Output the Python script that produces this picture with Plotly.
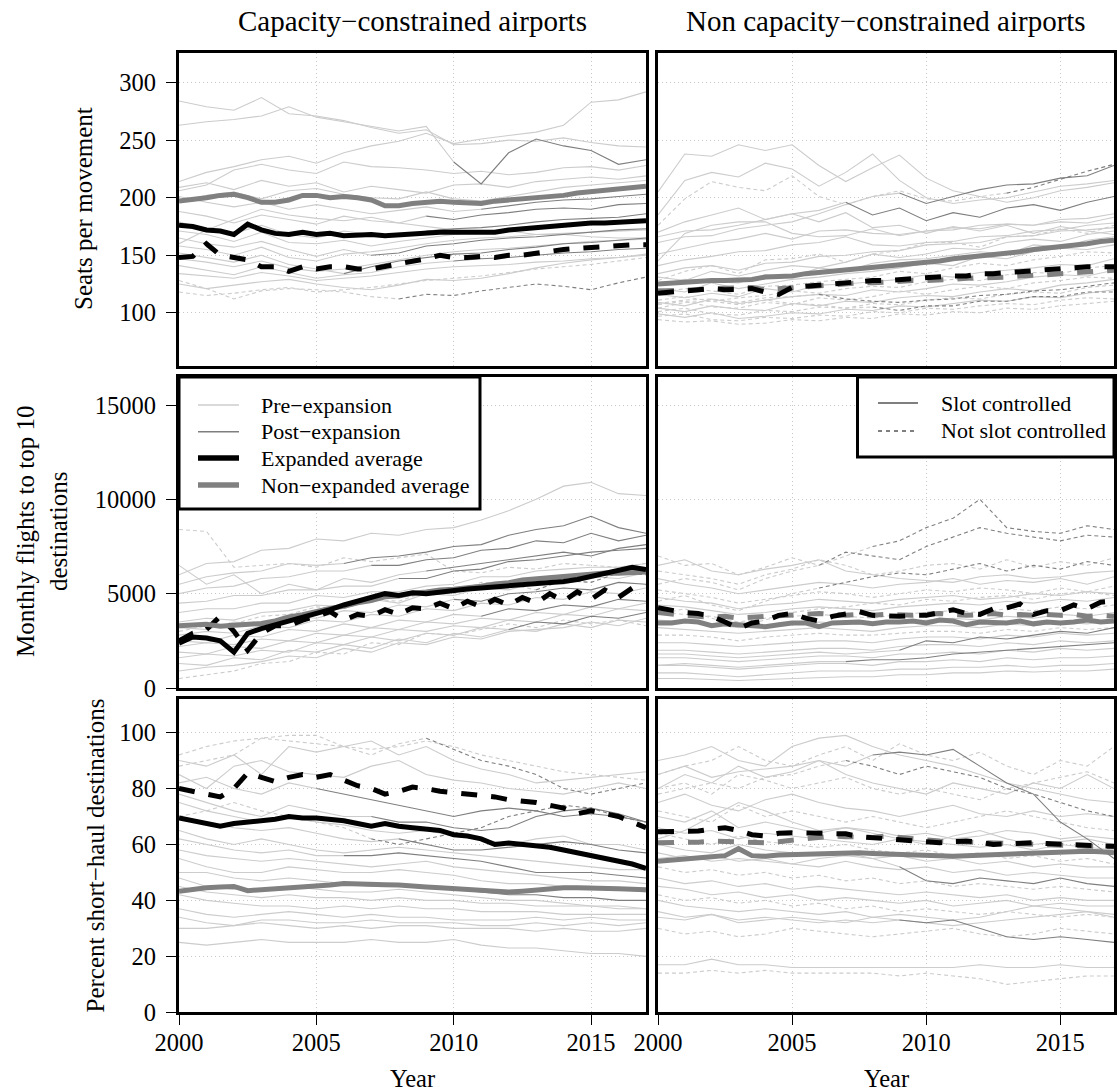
import plotly.graph_objects as go

# ---------------------------------------------------------------------------
# Time axes
# ---------------------------------------------------------------------------
YEARS = list(range(2000, 2018))                      # yearly airport series
HALF_YEARS = [y / 2 for y in range(4000, 4035)]      # half-yearly group averages

# ---------------------------------------------------------------------------
# Seats per movement - capacity-constrained airports
# ---------------------------------------------------------------------------
seats_cc_values = [
    [284, 279, 276, 287, 273, 271, 267, 261, 256, 259, 246, 247, 250, 249, 252, 248, 245, 244],
    [263, 266, 268, 271, 279, 270, 266, 262, 258, 262, 231, 212, 239, 251, 245, 241, 229, 233],
    [214, 222, 227, 233, 236, 230, 239, 245, 249, 256, 247, 251, 254, 257, 263, 283, 285, 292],
    [206, 211, 224, 229, 224, 221, 231, 227, 226, 224, 221, 223, 220, 222, 226, 227, 224, 228],
    [209, 213, 207, 215, 210, 213, 205, 210, 207, 204, 211, 212, 209, 214, 216, 218, 216, 219],
    [196, 202, 205, 199, 206, 208, 203, 200, 199, 205, 199, 197, 201, 205, 209, 211, 213, 215],
    [201, 196, 192, 196, 190, 194, 190, 186, 189, 192, 188, 190, 193, 196, 198, 199, 201, 203],
    [188, 184, 178, 185, 181, 177, 184, 180, 178, 184, 181, 185, 187, 190, 191, 190, 194, 195],
    [179, 172, 169, 176, 168, 165, 171, 168, 167, 171, 173, 174, 176, 179, 181, 182, 183, 186],
    [171, 168, 162, 170, 161, 160, 163, 158, 162, 165, 168, 170, 172, 175, 176, 177, 178, 181],
    [165, 160, 157, 162, 155, 149, 155, 150, 152, 158, 160, 163, 165, 166, 168, 170, 172, 173],
    [158, 155, 150, 157, 148, 145, 151, 153, 156, 160, 163, 165, 166, 168, 169, 170, 171, 172],
    [152, 148, 144, 150, 142, 138, 134, 140, 145, 148, 151, 152, 155, 157, 160, 161, 163, 165],
    [147, 144, 140, 145, 139, 136, 138, 142, 146, 150, 153, 155, 156, 158, 160, 162, 163, 164],
    [141, 137, 133, 140, 135, 130, 133, 135, 140, 143, 145, 147, 148, 150, 152, 153, 155, 156],
    [134, 132, 130, 135, 132, 128, 130, 132, 135, 138, 140, 141, 142, 144, 145, 147, 148, 150],
    [125, 121, 124, 127, 129, 125, 122, 120, 124, 129, 128, 130, 134, 139, 143, 146, 148, 151],
    [128, 121, 112, 119, 121, 120, 118, 114, 112, 116, 115, 119, 122, 125, 123, 120, 126, 131],
    [118, 115, 117, 120, 122, 118, 120, 122, 125, 128, 130, 132, 135, 138, 140, 142, 145, 148],
    [160, 172, 181, 190, 185, 182, 180, 183, 178, 175, 172, 170, 171, 168, 168, 166, 165, 165],
]
seats_cc_expansion = [None, 2010, None, None, None, None, 2011, 2009, 2009, None,
                      2007, None, 2006, None, 2010, None, None, 2008, None, None]
seats_cc_slot = [1, 1, 1, 1, 1, 1, 1, 1, 1, 1, 1, 1, 1, 1, 1, 1, 1, 0, 0, 1]

seats_cc_avg_nonexp = [197, 198, 200, 202, 203, 200, 196, 196, 198, 202, 202, 200, 201, 200, 198, 193, 193, 195,
                       196, 197, 196, 195, 195, 197, 198, 199, 200, 200, 202, 204, 205, 207, 208, 209, 210]
seats_cc_avg_exp = [176, 175, 172, 171, 168, 177, 172, 169, 168, 170, 168, 169, 167, 168, 168, 167, 168, 169,
                    170, 170, 170, 170, 170, 170, 172, 173, 175, 176, 176, 177, 178, 178, 179, 180, 180]
seats_cc_avg_exp_noslot = [148, 149, 160, 150, 148, 146, 140, 140, 136, 140, 138, 140, 140, 138, 138, 140, 142, 145,
                           147, 150, 148, 148, 149, 148, 150, 150, 152, 153, 155, 156, 157, 158, 158, 159, 159]

# ---------------------------------------------------------------------------
# Seats per movement - non capacity-constrained airports
# ---------------------------------------------------------------------------
seats_ncc_values = [
    [205, 238, 236, 246, 241, 246, 228, 214, 226, 237, 217, 206, 201, 196, 200, 206, 209, 213],
    [176, 199, 214, 209, 206, 219, 201, 194, 201, 206, 199, 197, 201, 204, 209, 216, 223, 229],
    [170, 179, 185, 191, 181, 186, 179, 187, 174, 176, 169, 175, 171, 176, 169, 175, 171, 168],
    [166, 171, 172, 176, 181, 186, 189, 196, 185, 191, 180, 187, 183, 191, 194, 189, 196, 201],
    [161, 166, 167, 173, 176, 179, 186, 194, 201, 204, 195, 201, 207, 211, 212, 217, 219, 228],
    [151, 156, 161, 164, 169, 164, 171, 172, 169, 168, 171, 172, 176, 177, 176, 181, 182, 186],
    [141, 146, 149, 153, 154, 159, 161, 166, 159, 158, 161, 162, 166, 167, 171, 172, 176, 178],
    [134, 139, 141, 137, 143, 144, 149, 150, 153, 154, 159, 160, 161, 166, 167, 171, 172, 174],
    [131, 128, 136, 132, 137, 141, 139, 144, 151, 148, 151, 156, 155, 161, 164, 162, 168, 171],
    [124, 129, 127, 126, 133, 131, 139, 136, 143, 146, 147, 150, 153, 151, 159, 157, 163, 166],
    [121, 118, 126, 121, 125, 129, 131, 134, 136, 139, 143, 141, 149, 147, 153, 156, 155, 159],
    [117, 121, 119, 116, 123, 124, 127, 129, 131, 136, 134, 139, 143, 141, 146, 149, 153, 152],
    [116, 113, 117, 114, 121, 118, 124, 125, 127, 129, 133, 131, 135, 137, 139, 142, 141, 147],
    [111, 114, 110, 113, 115, 119, 117, 121, 123, 122, 127, 129, 128, 133, 135, 134, 139, 141],
    [109, 106, 112, 108, 111, 114, 116, 115, 120, 118, 121, 125, 124, 127, 131, 133, 132, 137],
    [107, 110, 105, 104, 109, 107, 113, 111, 114, 119, 116, 120, 123, 121, 126, 128, 131, 130],
    [104, 101, 106, 103, 102, 108, 106, 110, 109, 113, 115, 114, 118, 121, 119, 124, 126, 129],
    [101, 104, 99, 98, 102, 101, 105, 104, 108, 107, 111, 113, 112, 116, 118, 117, 122, 124],
    [99, 96, 100, 95, 97, 100, 99, 103, 102, 106, 105, 108, 111, 110, 114, 113, 117, 120],
    [97, 99, 94, 93, 96, 95, 98, 97, 101, 100, 104, 103, 106, 108, 107, 111, 113, 112],
    [94, 92, 93, 90, 91, 94, 93, 96, 95, 99, 98, 101, 100, 104, 103, 106, 108, 110],
    [108, 111, 112, 109, 113, 114, 116, 112, 110, 109, 111, 112, 115, 116, 119, 120, 123, 126],
    [104, 109, 110, 107, 111, 108, 107, 104, 105, 102, 106, 106, 110, 110, 114, 114, 118, 118],
    [128, 136, 141, 134, 146, 147, 151, 144, 151, 154, 161, 161, 157, 166, 167, 173, 169, 176],
    [145, 169, 176, 179, 179, 169, 166, 167, 173, 167, 171, 174, 173, 177, 176, 179, 178, 183],
    [185, 215, 222, 218, 230, 225, 210, 222, 238, 215, 200, 195, 198, 200, 205, 210, 212, 215],
]
seats_ncc_expansion = [None, 2013, None, 2007, 2009, None, None, None, None, None, None, None, None,
                       None, None, None, None, None, None, None, None, 2006, 2008, None, None, None]
seats_ncc_slot = [1, 0, 1, 1, 1, 1, 1, 1, 1, 1, 1, 0, 1, 0, 1, 0, 1, 0, 1, 0, 0, 0, 0, 0, 1, 1]

seats_ncc_avg_nonexp = [125, 126, 127, 127, 128, 128, 128, 129, 131, 131, 132, 134, 135, 136, 138, 138, 139, 140,
                        142, 142, 143, 145, 147, 148, 150, 151, 152, 153, 155, 156, 157, 158, 160, 162, 163]
seats_ncc_avg_nonexp_noslot = [119, 119, 120, 120, 121, 121, 121, 122, 120, 121, 122, 123, 123, 124, 125, 126, 126, 127,
                               127, 128, 128, 128, 129, 130, 130, 131, 131, 132, 132, 133, 134, 135, 136, 136, 137]
seats_ncc_avg_exp_noslot = [117, 118, 120, 121, 121, 120, 120, 121, 118, 116, 122, 123, 124, 125, 127, 128, 128, 128,
                            129, 130, 131, 132, 132, 132, 134, 134, 135, 136, 136, 137, 138, 139, 140, 140, 140]

# ---------------------------------------------------------------------------
# Monthly flights to top 10 destinations - capacity-constrained airports
# ---------------------------------------------------------------------------
flights_cc_values = [
    [6000, 6600, 6700, 7300, 7400, 7900, 7800, 8200, 8100, 8400, 8500, 8900, 9400, 10000, 10700, 10900, 10300, 10200],
    [8400, 8300, 6400, 6500, 6600, 6400, 6900, 6700, 6900, 7100, 6200, 6100, 6400, 6300, 6600, 6500, 6400, 6600],
    [5500, 5900, 6100, 6200, 6600, 6500, 6600, 6900, 7000, 7200, 7500, 7600, 8100, 8400, 8600, 9100, 8500, 8200],
    [5000, 5300, 5400, 5800, 5900, 6200, 6200, 6500, 6500, 6800, 6900, 7300, 7400, 7800, 7700, 8200, 7800, 8100],
    [4500, 4600, 4900, 4900, 5200, 5200, 5400, 5400, 5800, 5800, 6200, 6300, 6700, 6800, 7000, 7200, 7300, 7400],
    [4000, 4200, 4200, 4500, 4500, 4900, 4800, 5100, 5100, 5400, 5500, 5900, 5900, 6200, 6300, 6400, 6400, 6600],
    [3500, 3700, 3600, 4000, 4100, 4400, 4300, 4700, 4500, 5000, 4900, 5300, 5200, 5600, 5500, 5900, 5800, 6100],
    [3200, 3100, 3500, 3400, 3800, 3700, 4100, 4000, 4400, 4300, 4700, 4600, 5000, 5100, 5300, 5200, 5600, 5500],
    [2800, 3000, 2900, 3300, 3200, 3600, 3500, 3900, 3800, 4200, 4100, 4500, 4400, 4800, 4700, 5100, 5000, 5300],
    [2500, 2400, 2800, 2700, 3100, 3000, 3400, 3200, 3600, 3500, 3900, 3800, 4200, 4100, 4400, 4300, 4700, 4600],
    [2200, 2400, 2300, 2600, 2500, 2900, 2800, 3200, 3100, 3500, 3400, 3700, 3600, 4000, 3900, 4300, 4200, 4500],
    [1900, 1800, 2200, 2100, 2500, 2400, 2800, 2700, 3100, 3000, 3300, 3200, 3600, 3500, 3900, 3800, 4200, 4100],
    [1600, 1800, 1700, 2000, 1900, 2400, 2300, 2700, 2500, 2900, 2800, 3200, 3100, 3500, 3400, 3800, 3700, 4000],
    [1300, 1200, 1600, 1500, 2000, 1900, 2300, 2100, 2600, 2400, 2900, 2700, 3100, 3000, 3400, 3200, 3600, 3500],
    [900, 1100, 1200, 1400, 1700, 1600, 2100, 1900, 2400, 2300, 2700, 2600, 3000, 3100, 3200, 3500, 3300, 3700],
    [500, 700, 900, 1300, 1400, 1900, 1800, 2400, 2300, 2900, 2800, 3100, 3400, 3200, 3600, 3400, 3600, 3300],
    [3000, 3300, 3400, 3800, 3900, 4300, 4200, 4700, 4600, 5100, 5000, 5600, 5500, 5200, 5700, 5600, 6100, 6000],
    [6500, 5500, 6000, 5000, 5500, 5200, 5800, 5600, 6000, 6200, 6400, 6600, 6800, 7000, 7200, 7000, 7400, 7600],
]
flights_cc_expansion = [None, None, 2006, 2007, 2008, None, None, 2010, None, 2011,
                        None, None, 2012, None, None, None, 2013, 2009]
flights_cc_slot = [1, 0, 1, 1, 1, 1, 1, 1, 1, 1, 1, 1, 1, 1, 1, 0, 0, 1]

flights_cc_avg_nonexp = [3300, 3350, 3380, 3280, 3320, 3380, 3420, 3560, 3760, 3880, 4060, 4220, 4330, 4520, 4640,
                         4830, 4880, 5020, 5090, 5200, 5240, 5310, 5390, 5520, 5580, 5720, 5790, 5880, 5930, 6020,
                         6040, 6100, 6080, 6140, 6150]
flights_cc_avg_exp = [2380, 2700, 2650, 2500, 1900, 2900, 3150, 3350, 3500, 3700, 3900, 4150, 4400, 4600, 4780,
                      5000, 4900, 5050, 5000, 5100, 5150, 5250, 5300, 5350, 5400, 5450, 5500, 5550, 5650, 5750,
                      5900, 6050, 6250, 6400, 6280]
flights_cc_avg_exp_noslot = [2500, 2900, 3100, 3800, 3000, 2000, 2900, 3300, 3300, 3600, 3800, 4050, 3600, 3900,
                             3800, 4150, 3900, 4250, 4200, 4500, 4200, 4600, 4300, 4700, 4400, 4800, 4500, 5000,
                             4600, 5100, 4700, 5200, 4800, 5300, 5400]

# ---------------------------------------------------------------------------
# Monthly flights to top 10 destinations - non capacity-constrained airports
# ---------------------------------------------------------------------------
flights_ncc_values = [
    [6500, 6800, 6200, 6000, 6300, 6500, 6800, 6200, 6000, 5800, 5700, 5600, 5900, 6000, 5800, 5900, 6100, 6200],
    [7000, 6500, 6600, 6000, 6400, 6900, 6500, 7200, 7000, 6800, 7500, 8000, 8500, 8200, 8000, 7800, 8100, 8000],
    [5500, 5800, 5600, 5200, 5800, 6200, 6500, 7000, 7500, 7800, 8500, 9000, 10000, 8500, 8300, 8200, 8600, 8400],
    [5800, 5500, 5300, 5000, 5200, 5400, 5600, 5500, 5300, 5500, 5600, 5800, 5500, 5700, 5600, 5800, 5500, 5900],
    [5200, 5000, 4800, 4500, 4700, 4900, 5100, 5000, 4800, 5000, 5200, 5100, 5300, 5200, 5000, 5300, 5100, 5400],
    [4800, 4600, 4500, 4200, 4400, 4500, 4700, 4600, 4500, 4700, 4800, 4900, 4700, 4800, 5000, 4900, 5100, 5000],
    [4400, 4300, 4100, 3900, 4000, 4200, 4300, 4200, 4100, 4300, 4400, 4500, 4400, 4600, 4500, 4700, 4600, 4800],
    [4000, 3900, 3800, 3500, 3700, 3800, 3900, 3800, 3700, 3900, 4000, 4100, 4000, 4200, 4100, 4300, 4200, 4400],
    [3600, 3500, 3400, 3200, 3300, 3400, 3500, 3400, 3400, 3500, 3600, 3700, 3600, 3800, 3700, 3900, 3800, 4000],
    [3200, 3100, 3000, 2900, 3000, 3100, 3200, 3100, 3000, 3200, 3300, 3300, 3200, 3400, 3300, 3500, 3400, 3600],
    [2800, 2800, 2700, 2500, 2700, 2800, 2900, 2800, 2800, 2900, 3000, 3000, 2900, 3100, 3000, 3200, 3100, 3200],
    [2400, 2400, 2300, 2200, 2300, 2400, 2500, 2500, 2400, 2600, 2700, 2700, 2600, 2800, 2700, 2900, 2800, 2900],
    [2000, 2000, 1900, 1800, 1900, 2000, 2100, 2100, 2000, 2200, 2300, 2300, 2200, 2400, 2300, 2500, 2400, 2500],
    [1600, 1600, 1500, 1400, 1500, 1600, 1700, 1700, 1600, 1800, 1800, 1900, 1800, 2000, 1900, 2100, 2000, 2100],
    [1200, 1200, 1100, 1000, 1100, 1200, 1300, 1300, 1200, 1400, 1400, 1500, 1400, 1600, 1500, 1600, 1600, 1700],
    [800, 800, 700, 600, 700, 800, 900, 900, 900, 1000, 1000, 1100, 1100, 1200, 1100, 1200, 1200, 1300],
    [500, 500, 450, 400, 450, 500, 550, 600, 600, 700, 700, 800, 800, 900, 850, 900, 900, 1000],
    [1200, 1300, 1200, 1100, 1200, 1300, 1400, 1400, 1500, 1500, 1600, 1800, 1900, 2000, 2100, 2200, 2300, 2400],
    [1800, 1800, 1700, 1600, 1700, 1800, 1900, 1800, 1900, 2000, 2500, 2400, 2700, 2600, 2800, 3000, 2900, 3200],
    [6200, 6000, 5800, 5500, 6000, 6300, 6800, 6500, 6000, 6200, 6500, 6600, 6300, 6800, 6400, 6700, 6500, 6900],
    [4600, 4900, 4400, 4100, 4600, 5000, 5300, 5600, 5900, 6100, 6000, 6300, 6600, 6200, 6500, 6300, 6700, 6500],
    [3900, 4200, 3700, 3300, 3600, 4000, 4200, 4300, 4500, 4400, 4700, 4600, 4800, 4900, 4700, 5000, 5100, 4900],
]
flights_ncc_expansion = [None, 2006, 2008, None, None, None, None, None, None, None, None,
                         None, None, None, None, None, None, 2007, 2009, None, 2006, None]
flights_ncc_slot = [1, 0, 0, 1, 0, 1, 1, 0, 1, 1, 0, 1, 1, 1, 1, 1, 1, 1, 1, 0, 0, 0]

flights_ncc_avg_nonexp = [3450, 3450, 3550, 3500, 3300, 3400, 3350, 3300, 3250, 3350, 3450, 3450, 3250, 3450, 3450,
                          3500, 3400, 3500, 3500, 3550, 3450, 3600, 3550, 3350, 3500, 3450, 3450, 3550, 3400, 3500,
                          3450, 3500, 3600, 3500, 3550]
flights_ncc_avg_nonexp_noslot = [4000, 3900, 3850, 3800, 3750, 3800, 3700, 3750, 3800, 3850, 3900, 3950, 3950, 3900,
                                 3850, 3900, 3850, 3900, 3850, 3850, 3900, 3950, 3900, 3850, 3900, 3950, 3850, 3900,
                                 3850, 3900, 3850, 3900, 3800, 3850, 3800]
flights_ncc_avg_exp_noslot = [4250, 4100, 4000, 3950, 3800, 3500, 3150, 3450, 3550, 3850, 3950, 3700, 3550, 3800,
                              3900, 4050, 3850, 3800, 3800, 3850, 3850, 4000, 4150, 3950, 3900, 4200, 4250, 4450,
                              3900, 4100, 4100, 4400, 4200, 4550, 4600]

# ---------------------------------------------------------------------------
# Percent short-haul destinations - capacity-constrained airports
# ---------------------------------------------------------------------------
shorthaul_cc_values = [
    [92, 95, 97, 98, 97, 96, 95, 94, 95, 97, 95, 92, 90, 88, 86, 85, 84, 83],
    [90, 88, 92, 85, 95, 93, 95, 97, 92, 95, 90, 87, 85, 82, 83, 84, 85, 86],
    [85, 80, 88, 90, 86, 85, 84, 88, 90, 85, 83, 82, 80, 79, 78, 80, 82, 80],
    [82, 84, 80, 78, 82, 80, 78, 76, 74, 72, 70, 72, 73, 72, 70, 71, 70, 68],
    [78, 75, 72, 70, 74, 72, 70, 70, 68, 68, 66, 65, 66, 70, 72, 73, 71, 68],
    [75, 72, 70, 68, 70, 68, 67, 65, 64, 65, 63, 62, 60, 62, 63, 60, 60, 58],
    [70, 68, 66, 65, 66, 64, 62, 61, 62, 60, 58, 58, 59, 60, 61, 60, 58, 57],
    [65, 62, 60, 62, 60, 58, 57, 58, 59, 58, 57, 56, 55, 54, 53, 52, 51, 51],
    [62, 60, 58, 57, 58, 56, 56, 56, 57, 56, 55, 54, 52, 50, 50, 50, 49, 48],
    [58, 56, 55, 54, 55, 54, 53, 52, 53, 54, 52, 51, 50, 49, 48, 47, 47, 46],
    [55, 52, 50, 50, 52, 51, 50, 50, 51, 50, 49, 47, 46, 46, 45, 45, 44, 43],
    [50, 50, 48, 47, 48, 47, 46, 45, 46, 45, 44, 43, 42, 42, 41, 41, 40, 40],
    [48, 45, 44, 44, 45, 44, 43, 43, 44, 43, 42, 41, 40, 40, 39, 38, 38, 37],
    [45, 43, 42, 41, 42, 41, 41, 40, 41, 40, 40, 39, 39, 38, 38, 38, 37, 37],
    [42, 40, 39, 38, 38, 37, 38, 37, 38, 37, 37, 36, 36, 36, 35, 35, 35, 35],
    [37, 35, 34, 35, 36, 35, 34, 35, 34, 34, 33, 33, 33, 34, 33, 34, 33, 33],
    [34, 32, 31, 33, 33, 32, 32, 33, 32, 32, 32, 31, 31, 32, 31, 32, 31, 32],
    [30, 30, 31, 32, 31, 30, 31, 30, 31, 31, 30, 30, 30, 29, 30, 29, 29, 30],
    [25, 24, 25, 26, 25, 25, 25, 26, 25, 25, 26, 24, 23, 23, 22, 21, 21, 20],
    [88, 90, 92, 98, 99, 99, 95, 92, 96, 98, 94, 90, 88, 85, 80, 78, 80, 82],
    [70, 72, 75, 72, 70, 68, 66, 62, 60, 62, 64, 66, 70, 72, 74, 73, 70, 68],
]
shorthaul_cc_expansion = [None, None, None, 2005, 2007, None, 2008, None, 2006, None, None,
                          2010, None, None, None, None, None, None, None, 2009, 2007]
shorthaul_cc_slot = [0, 1, 1, 1, 1, 1, 1, 1, 1, 1, 1, 1, 1, 1, 1, 1, 1, 1, 1, 0, 0]

shorthaul_cc_avg_nonexp = [43.3, 44, 44.5, 44.8, 45, 43.5, 43.8, 44, 44.3, 44.8, 45, 45.5, 46, 46, 45.8, 45.6, 45.5,
                           45, 44.8, 44.5, 44.2, 43.9, 43.5, 43, 43, 43.3, 43.8, 44.3, 44.5, 44.5, 44.5, 44.3,
                           44.2, 44, 43.8]
shorthaul_cc_avg_exp = [69.5, 68.5, 67.5, 66.5, 67.5, 68, 68.5, 69, 70, 69.5, 69.5, 69, 68.5, 67.5, 66.5, 67.5,
                        66.5, 66, 65.5, 65, 63.5, 63, 62, 60, 60.5, 60, 59.5, 59, 58, 57, 56, 55, 54, 53, 51.5]
shorthaul_cc_avg_exp_noslot = [80, 79, 78, 77, 80, 85.5, 84, 82.5, 84, 85, 84, 85, 83, 81, 80, 78, 79, 80.5, 80,
                               79, 78.5, 78, 77.5, 77, 76, 75.5, 75, 74, 73, 71, 72, 71, 70, 68, 66]

# ---------------------------------------------------------------------------
# Percent short-haul destinations - non capacity-constrained airports
# ---------------------------------------------------------------------------
shorthaul_ncc_values = [
    [90, 92, 95, 90, 88, 95, 98, 99, 95, 92, 90, 88, 85, 82, 80, 78, 76, 75],
    [85, 88, 90, 95, 90, 88, 92, 95, 90, 96, 92, 90, 93, 88, 85, 90, 88, 95],
    [80, 85, 82, 88, 84, 86, 90, 85, 82, 80, 78, 82, 80, 78, 82, 80, 85, 80],
    [85, 88, 84, 86, 87, 88, 90, 88, 92, 93, 92, 94, 88, 82, 78, 68, 62, 55],
    [78, 80, 82, 80, 84, 85, 88, 90, 88, 85, 88, 86, 84, 80, 78, 75, 72, 70],
    [75, 78, 74, 72, 76, 78, 75, 73, 72, 70, 72, 74, 71, 70, 72, 70, 71, 70],
    [72, 70, 68, 74, 70, 72, 70, 68, 70, 68, 66, 68, 70, 72, 70, 68, 66, 65],
    [70, 68, 72, 66, 68, 66, 64, 66, 65, 63, 64, 62, 63, 65, 64, 62, 63, 62],
    [66, 64, 65, 62, 64, 63, 62, 61, 60, 62, 61, 60, 59, 60, 58, 60, 59, 58],
    [64, 62, 60, 63, 61, 60, 59, 60, 58, 57, 58, 56, 57, 55, 56, 54, 55, 53],
    [60, 58, 57, 60, 58, 57, 56, 57, 55, 56, 54, 55, 53, 54, 52, 53, 52, 52],
    [57, 55, 56, 54, 55, 53, 52, 54, 52, 51, 52, 50, 51, 49, 50, 49, 48, 48],
    [55, 56, 54, 55, 54, 53, 55, 56, 55, 52, 47, 46, 48, 47, 46, 48, 46, 45],
    [52, 50, 51, 49, 50, 48, 49, 47, 48, 46, 47, 45, 46, 45, 44, 45, 44, 43],
    [48, 46, 47, 45, 46, 44, 45, 44, 43, 42, 43, 42, 41, 42, 40, 41, 40, 40],
    [45, 44, 42, 43, 41, 42, 40, 41, 40, 39, 40, 38, 39, 40, 38, 39, 38, 38],
    [42, 40, 41, 39, 40, 38, 39, 37, 38, 36, 37, 36, 35, 36, 35, 34, 35, 34],
    [40, 38, 37, 36, 37, 36, 35, 36, 34, 35, 34, 33, 34, 36, 38, 37, 36, 35],
    [36, 34, 35, 33, 34, 33, 32, 33, 32, 33, 32, 31, 32, 33, 34, 35, 36, 34],
    [34, 33, 35, 32, 33, 34, 33, 32, 34, 33, 32, 33, 30, 27, 26, 27, 26, 25],
    [30, 28, 29, 27, 28, 30, 29, 28, 27, 28, 29, 30, 28, 27, 28, 30, 29, 28],
    [17, 17, 19, 17, 17, 16, 16, 16, 16, 16, 16, 16, 17, 16, 16, 17, 16, 16],
    [14, 14, 15, 14, 15, 14, 14, 14, 14, 13, 14, 13, 12, 10, 11, 12, 13, 13],
    [62, 65, 70, 75, 72, 68, 65, 66, 64, 62, 60, 63, 65, 62, 60, 61, 62, 60],
    [80, 82, 78, 85, 83, 80, 82, 84, 80, 78, 80, 78, 76, 80, 82, 84, 86, 82],
]
shorthaul_ncc_expansion = [None, None, None, 2008, 2007, None, None, None, None, None, None, None,
                           2009, None, None, None, None, None, None, 2009, None, None, None, None, None]
shorthaul_ncc_slot = [1, 0, 1, 1, 0, 1, 0, 1, 1, 0, 1, 1, 1, 0, 1, 1, 0, 1, 1, 1, 0, 1, 0, 1, 0]

shorthaul_ncc_avg_nonexp = [54, 54.5, 55, 55.3, 55.6, 56, 58.5, 56, 55.8, 56.2, 56.4, 56.6, 56.8, 57, 57, 57, 56.8,
                            56.6, 56.4, 56.2, 56, 55.8, 55.8, 56, 56.2, 56.4, 56.6, 56.8, 57, 57.2, 57.5, 57.7,
                            57.6, 57.4, 57]
shorthaul_ncc_avg_nonexp_noslot = [60.6, 60.6, 60.6, 60.8, 61.2, 61, 60.6, 60.6, 60.6, 61, 61.5, 62, 62.5, 63, 62.8,
                                   62.5, 62.5, 63, 62.5, 62, 61.5, 61.2, 61, 60.8, 60.6, 60.5, 60.4, 60.3, 60.2, 60,
                                   59.8, 59.6, 59.4, 59.4, 59.2]
shorthaul_ncc_avg_exp_noslot = [64.5, 64.5, 64.8, 64.8, 65.5, 66, 65, 63.5, 63, 64, 64.2, 64.2, 64, 63.8, 63.8,
                                62.8, 62.4, 62, 61.8, 61.5, 61, 60.6, 61, 61.2, 60.8, 60, 60.2, 60.5, 60.6, 60.3,
                                60, 60, 59.8, 59.5, 59.4]

# ---------------------------------------------------------------------------
# Axis labels
# ---------------------------------------------------------------------------
year_ticks = [2000, 2005, 2010, 2015]
seats_ticks = [100, 150, 200, 250, 300]
flights_ticks = [0, 5000, 10000, 15000]
shorthaul_ticks = [0, 20, 40, 60, 80, 100]

# ---------------------------------------------------------------------------
# Styling
# ---------------------------------------------------------------------------
W, H = 1118, 1092
FONT = "Liberation Serif"
LIGHT = "#cccccc"
DARK = "#7f7f7f"
AVG_GREY = "#808080"
THIN = 1.1
THICK = 5
THIN_DASH = "4px,3px"
THICK_DASH = "16px,14px"

COL_PX = [(179, 646), (658, 1114)]
ROW_PX = [(52.7, 365.7), (376.7, 688), (699, 1012.3)]
ROW_RANGES = [[54, 326], [0, 16500], [0, 112]]
ROW_TICKS = [seats_ticks, flights_ticks, shorthaul_ticks]


def fx(px):
    return px / W


def fy(px):
    return 1 - px / H


panels = [
    (seats_cc_values, seats_cc_expansion, seats_cc_slot,
     [(seats_cc_avg_nonexp, AVG_GREY, "solid"),
      (seats_cc_avg_exp, "black", "solid"),
      (seats_cc_avg_exp_noslot, "black", THICK_DASH)]),
    (seats_ncc_values, seats_ncc_expansion, seats_ncc_slot,
     [(seats_ncc_avg_nonexp, AVG_GREY, "solid"),
      (seats_ncc_avg_nonexp_noslot, AVG_GREY, THICK_DASH),
      (seats_ncc_avg_exp_noslot, "black", THICK_DASH)]),
    (flights_cc_values, flights_cc_expansion, flights_cc_slot,
     [(flights_cc_avg_exp_noslot, "black", THICK_DASH),
      (flights_cc_avg_nonexp, AVG_GREY, "solid"),
      (flights_cc_avg_exp, "black", "solid")]),
    (flights_ncc_values, flights_ncc_expansion, flights_ncc_slot,
     [(flights_ncc_avg_nonexp, AVG_GREY, "solid"),
      (flights_ncc_avg_nonexp_noslot, AVG_GREY, THICK_DASH),
      (flights_ncc_avg_exp_noslot, "black", THICK_DASH)]),
    (shorthaul_cc_values, shorthaul_cc_expansion, shorthaul_cc_slot,
     [(shorthaul_cc_avg_nonexp, AVG_GREY, "solid"),
      (shorthaul_cc_avg_exp, "black", "solid"),
      (shorthaul_cc_avg_exp_noslot, "black", THICK_DASH)]),
    (shorthaul_ncc_values, shorthaul_ncc_expansion, shorthaul_ncc_slot,
     [(shorthaul_ncc_avg_nonexp, AVG_GREY, "solid"),
      (shorthaul_ncc_avg_nonexp_noslot, AVG_GREY, THICK_DASH),
      (shorthaul_ncc_avg_exp_noslot, "black", THICK_DASH)]),
]

fig = go.Figure()
layout = dict(
    template="none",
    width=W, height=H, margin=dict(l=0, r=0, t=0, b=0, pad=0, autoexpand=False),
    paper_bgcolor="white", plot_bgcolor="white", showlegend=False,
    font=dict(family=FONT, size=24, color="black"),
)

for i, (values, expansion, slot, averages) in enumerate(panels):
    row, col = divmod(i, 2)
    n = i + 1
    xref = "x" if n == 1 else f"x{n}"
    yref = "y" if n == 1 else f"y{n}"

    pre, post = [], []
    for vals, exp, sl in zip(values, expansion, slot):
        dash = "solid" if sl else THIN_DASH
        if exp is None:
            pre.append((YEARS, vals, dash))
        else:
            k = YEARS.index(exp)
            pre.append((YEARS[:k + 1], vals[:k + 1], dash))
            post.append((YEARS[k:], vals[k:], dash))

    for segs, colr in ((pre, LIGHT), (post, DARK)):
        for xs, ys, dash in segs:
            fig.add_trace(go.Scatter(x=xs, y=ys, mode="lines", xaxis=xref, yaxis=yref,
                                     line=dict(color=colr, width=THIN, dash=dash),
                                     hoverinfo="skip"))

    for ys, colr, dash in averages:
        fig.add_trace(go.Scatter(x=HALF_YEARS, y=ys, mode="lines", xaxis=xref, yaxis=yref,
                                 line=dict(color=colr, width=THICK, dash=dash),
                                 hoverinfo="skip"))

    axis_common = dict(showline=True, linewidth=3, linecolor="black", mirror=True,
                       showgrid=True, gridcolor="#c8c8c8", griddash="1px,3px", gridwidth=1,
                       zeroline=False, tickcolor="black", tickwidth=1, ticklen=10,
                       automargin=False,
                       tickfont=dict(family=FONT, size=24.5, color="black"))
    xa = dict(axis_common, domain=[fx(COL_PX[col][0]), fx(COL_PX[col][1])], anchor=yref,
              range=[2000, 2017], tickvals=year_ticks, ticktext=[str(t) for t in year_ticks],
              ticks="outside" if row == 2 else "", showticklabels=(row == 2),
              ticklabelstandoff=-4)
    ya = dict(axis_common, domain=[fy(ROW_PX[row][1]), fy(ROW_PX[row][0])], anchor=xref,
              range=ROW_RANGES[row], tickvals=ROW_TICKS[row],
              ticktext=[str(t) for t in ROW_TICKS[row]],
              ticks="outside" if col == 0 else "", showticklabels=(col == 0),
              ticklabelstandoff=5)
    layout["xaxis" if n == 1 else f"xaxis{n}"] = xa
    layout["yaxis" if n == 1 else f"yaxis{n}"] = ya

annotations = []


def text(s, x, y, size, xanchor="center", angle=0):
    annotations.append(dict(text=s, x=fx(x), y=fy(y), xref="paper", yref="paper",
                            xanchor=xanchor, yanchor="middle", showarrow=False,
                            textangle=angle, font=dict(family=FONT, size=size, color="black")))


# Column and axis titles
text("Capacity−constrained airports", 412.5, 21, 29)
text("Non capacity−constrained airports", 886, 21, 29)
text("Year", 412.5, 1078, 24.5)
text("Year", 886, 1078, 24.5)
text("Seats per movement", 84, 209, 25, angle=-90)
text("Monthly flights to top 10<br>destinations", 42, 532, 25, angle=-90)
text("Percent short−haul destinations", 95, 855.5, 25, angle=-90)

shapes = []


def box(x0, y0, x1, y1):
    shapes.append(dict(type="rect", xref="paper", yref="paper", layer="above",
                       x0=fx(x0), x1=fx(x1), y0=fy(y1), y1=fy(y0),
                       fillcolor="white", line=dict(color="black", width=3)))


def sample(x0, x1, y, colr, width, dash="solid"):
    shapes.append(dict(type="line", xref="paper", yref="paper", layer="above",
                       x0=fx(x0), x1=fx(x1), y0=fy(y), y1=fy(y),
                       line=dict(color=colr, width=width, dash=dash)))


# Expansion-status key
box(179, 377, 480, 509)
for label, colr, width, yy in [("Pre−expansion", LIGHT, 1.5, 405),
                               ("Post−expansion", DARK, 1.5, 431.7),
                               ("Expanded average", "black", 5.5, 458),
                               ("Non−expanded average", AVG_GREY, 5.5, 485)]:
    sample(198, 239, yy, colr, width)
    text(label, 259, yy, 22, xanchor="left")

# Slot-control key
box(857.5, 377, 1114, 457)
sample(878, 918, 403, "black", 1.2)
text("Slot controlled", 938.6, 403, 22, xanchor="left")
sample(878, 918, 431, "black", 1.2, "4px,4px")
text("Not slot controlled", 938.6, 431, 22, xanchor="left")

layout["annotations"] = annotations
layout["shapes"] = shapes
fig.update_layout(**layout)
fig.write_html("out.html")
